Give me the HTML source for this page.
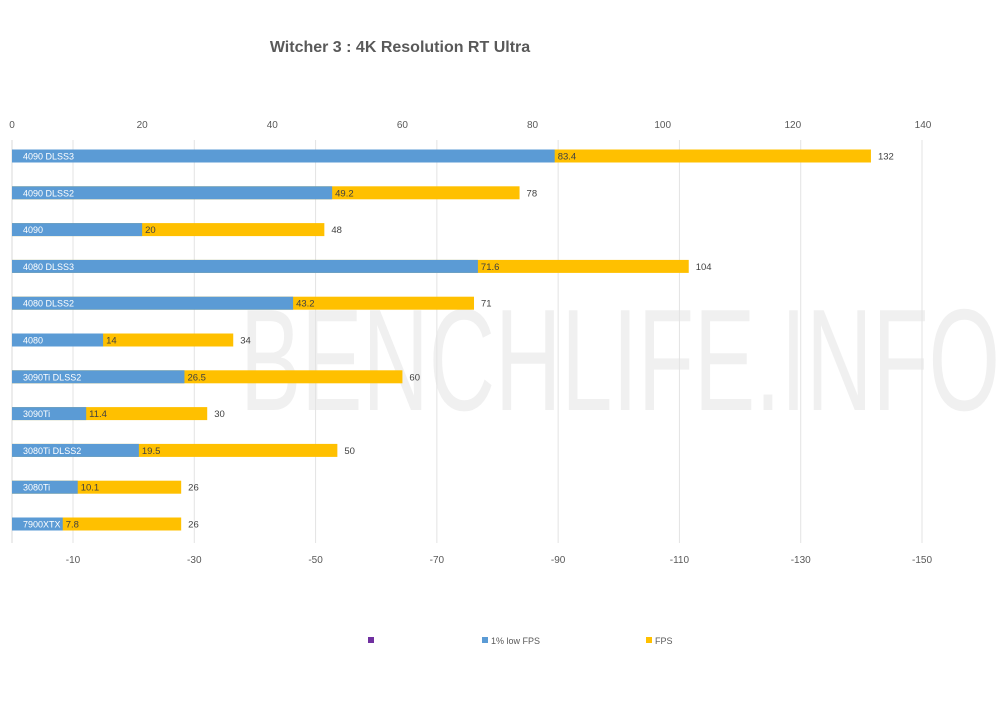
<!DOCTYPE html>
<html><head><meta charset="utf-8"><style>
body{margin:0;background:#fff;}
svg text{font-family:"Liberation Sans",sans-serif;}
</style></head><body>
<svg width="1000" height="707">
<rect x="0" y="0" width="1000" height="707" fill="#fff"/>
<g id="wm"></g>
<text x="400" y="52" text-anchor="middle" font-size="16" font-weight="bold" fill="#595959">Witcher 3 : 4K Resolution  RT Ultra</text>
<g id="grid"></g><g id="bars"></g><g id="axes"></g>
<g>
<rect x="368" y="637" width="6" height="6" fill="#7030a0"/>
<rect x="482" y="637" width="6" height="6" fill="#5b9bd5"/>
<text x="491" y="644" font-size="9" fill="#595959">1% low FPS</text>
<rect x="646" y="637" width="6" height="6" fill="#ffc000"/>
<text x="655" y="644" font-size="9" fill="#595959">FPS</text>
</g>
</svg>
<script>
const categories=["4090 DLSS3","4090 DLSS2","4090","4080 DLSS3","4080 DLSS2","4080","3090Ti DLSS2","3090Ti","3080Ti DLSS2","3080Ti","7900XTX"];
const lowFps=[83.4,49.2,20,71.6,43.2,14,26.5,11.4,19.5,10.1,7.8];
const fps=[132,78,48,104,71,34,60,30,50,26,26];
const topTicks=[0,20,40,60,80,100,120,140];
const bottomTicks=[-10,-30,-50,-70,-90,-110,-130,-150];
const NS="http://www.w3.org/2000/svg";
const x0=12,scale=(923-12)/140;
const xs=v=>x0+v*scale;
const bx=v=>73+(-10-v)*(922-73)/140;
const yRow=i=>156+i*36.8;
function mk(t,a,p){const e=document.createElementNS(NS,t);for(const k in a)e.setAttribute(k,a[k]);p.appendChild(e);return e;}
const wm=document.getElementById('wm');
const w=mk('text',{x:240,y:410,'font-size':145,fill:'#f0f0f0',textLength:760,lengthAdjust:'spacingAndGlyphs'},wm);w.textContent="BENCHLIFE.INFO";


const grid=document.getElementById('grid'),axes=document.getElementById('axes'),bars=document.getElementById('bars');
mk('line',{x1:x0,x2:x0,y1:140,y2:543,stroke:'#d9d9d9'},grid);
bottomTicks.forEach(v=>{const l=mk('line',{x1:bx(v),x2:bx(v),y1:140,y2:543,stroke:'#e3e3e3'},grid);


const t=mk('text',{x:bx(v),y:563,'font-size':10,fill:'#595959','text-anchor':'middle'},axes);t.textContent=v;

});
topTicks.forEach(v=>{const t=mk('text',{x:xs(v),y:128,'font-size':10,fill:'#595959','text-anchor':'middle'},axes);t.textContent=v;

});
categories.forEach((c,i)=>{const y=yRow(i)-6.5;
const f=mk('rect',{x:xs(0),y:y,width:xs(fps[i])-xs(0),height:13,fill:'#ffc000'},bars);


const b=mk('rect',{x:xs(0),y:y,width:xs(lowFps[i])-xs(0),height:13,fill:'#5b9bd5'},bars);


const cl=mk('text',{x:23,y:y+10,'font-size':9,fill:'#fff'},bars);cl.textContent=c;


const lv=mk('text',{x:xs(lowFps[i])+3,y:y+10,'font-size':9.5,fill:'#404040'},bars);lv.textContent=lowFps[i];


const fv=mk('text',{x:xs(fps[i])+7,y:y+10,'font-size':9.5,fill:'#404040'},bars);fv.textContent=fps[i];

});
</script>
</body></html>
